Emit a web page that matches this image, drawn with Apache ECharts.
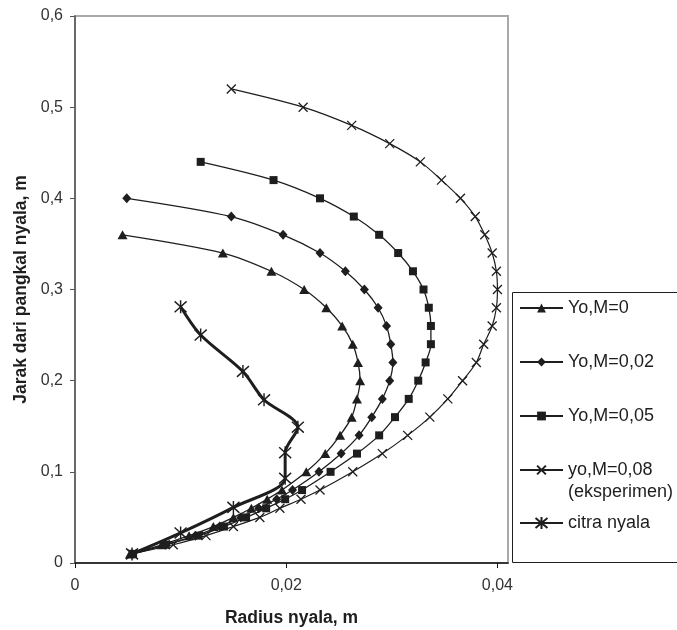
<!DOCTYPE html>
<html>
<head>
<meta charset="utf-8">
<title>Radius nyala</title>
<script src="https://cdn.jsdelivr.net/npm/echarts@6/dist/echarts.min.js"></script>
<style>
  html, body { margin: 0; padding: 0; background: #fff; }
  #chart { width: 677px; height: 630px; }
</style>
</head>
<body>
<div id="chart"></div>
<script>
// jarak dari pangkal nyala (m) vs radius nyala (m)
const m0Jarak = [0.36, 0.34, 0.32, 0.30, 0.28, 0.26, 0.24, 0.22, 0.20, 0.18, 0.16, 0.14, 0.12, 0.10, 0.08, 0.07, 0.06, 0.05, 0.04, 0.03, 0.02, 0.01];
const m0Radius = [0.0045, 0.0140, 0.0186, 0.0217, 0.0238, 0.0253, 0.0263, 0.0268, 0.0270, 0.0267, 0.0262, 0.0251, 0.0237, 0.0219, 0.0196, 0.0182, 0.0167, 0.0150, 0.0131, 0.0108, 0.0082, 0.0052];

const m002Jarak = [0.40, 0.38, 0.36, 0.34, 0.32, 0.30, 0.28, 0.26, 0.24, 0.22, 0.20, 0.18, 0.16, 0.14, 0.12, 0.10, 0.08, 0.07, 0.06, 0.05, 0.04, 0.03, 0.02, 0.01];
const m002Radius = [0.0049, 0.0148, 0.0197, 0.0232, 0.0256, 0.0274, 0.0287, 0.0295, 0.0299, 0.0301, 0.0298, 0.0291, 0.0281, 0.0269, 0.0252, 0.0231, 0.0206, 0.0191, 0.0174, 0.0157, 0.0137, 0.0114, 0.0086, 0.0054];

const m005Jarak = [0.44, 0.42, 0.40, 0.38, 0.36, 0.34, 0.32, 0.30, 0.28, 0.26, 0.24, 0.22, 0.20, 0.18, 0.16, 0.14, 0.12, 0.10, 0.08, 0.07, 0.06, 0.05, 0.04, 0.03, 0.02, 0.01];
const m005Radius = [0.0119, 0.0188, 0.0232, 0.0264, 0.0288, 0.0306, 0.0320, 0.0330, 0.0335, 0.0337, 0.0337, 0.0332, 0.0325, 0.0316, 0.0303, 0.0288, 0.0267, 0.0242, 0.0215, 0.0199, 0.0181, 0.0162, 0.0141, 0.0117, 0.0086, 0.0055];

const m008Jarak = [0.52, 0.50, 0.48, 0.46, 0.44, 0.42, 0.40, 0.38, 0.36, 0.34, 0.32, 0.30, 0.28, 0.26, 0.24, 0.22, 0.20, 0.18, 0.16, 0.14, 0.12, 0.10, 0.08, 0.07, 0.06, 0.05, 0.04, 0.03, 0.02, 0.01];
const m008Radius = [0.0148, 0.0216, 0.0262, 0.0298, 0.0327, 0.0347, 0.0365, 0.0379, 0.0388, 0.0395, 0.0399, 0.0400, 0.0399, 0.0395, 0.0387, 0.0380, 0.0367, 0.0353, 0.0336, 0.0315, 0.0291, 0.0263, 0.0232, 0.0214, 0.0194, 0.0175, 0.0150, 0.0124, 0.0093, 0.0054];

const citraJarak = [0.281, 0.25, 0.21, 0.179, 0.149, 0.121, 0.093, 0.061, 0.033, 0.01];
const citraRadius = [0.0100, 0.0119, 0.0159, 0.0179, 0.0211, 0.0199, 0.0199, 0.0150, 0.0100, 0.0054];

const namaSeri = ["Yo,M=0", "Yo,M=0,02", "Yo,M=0,05", "yo,M=0,08\n(eksperimen)", "citra nyala"];
const xTicks = [0, 0.02, 0.04];

const FONT = "'Liberation Sans', Arial, sans-serif";
const HITAM = "#1e1e1e";

function pasang(radius, jarak) {
  return radius.map(function (r, i) {
    return [r, jarak[i]];
  });
}
function koma(v) {
  return String(Number(v.toFixed(3))).replace(".", ",");
}

// legenda: satu komponen per baris supaya posisi bisa diatur
const legendTop = [297, 351, 405, 437, 512];
const legends = namaSeri.map(function (nama, i) {
  return {
    data: [nama],
    orient: "vertical",
    left: 519,
    top: legendTop[i],
    padding: 0,
    itemWidth: 43,
    itemHeight: i === 4 ? 15 : 11,
    selectedMode: false,
    // baris kosong di depan agar ikon sejajar baris pertama
    formatter: i === 3 ? function (n) { return "\n" + n; } : "{name}",
    textStyle: {
      fontFamily: FONT,
      fontSize: 18,
      lineHeight: 22,
      color: HITAM,
    },
  };
});

const option = {
  animation: false,
  backgroundColor: "#fff",
  grid: {
    left: 75,
    right: 169,
    top: 16,
    bottom: 67,
    outerBoundsMode: "none",
    show: true,
    borderColor: "#a9a9a9",
    borderWidth: 2,
  },
  legend: legends,
  graphic: [
    {
      type: "rect",
      shape: { x: 512.5, y: 292.5, width: 180, height: 270 },
      style: { fill: "none", stroke: HITAM, lineWidth: 1 },
      z: 1,
    },
  ],
  xAxis: {
    type: "value",
    min: 0,
    max: 0.041,
    name: "Radius nyala, m",
    nameLocation: "middle",
    nameGap: 46,
    nameTextStyle: { fontFamily: FONT, fontSize: 17.5, fontWeight: "bold", color: HITAM },
    splitLine: { show: false },
    axisLine: { lineStyle: { color: "#111", width: 1.5 } },
    axisTick: { customValues: xTicks, length: 5, lineStyle: { color: "#111" } },
    axisLabel: {
      customValues: xTicks,
      margin: 15,
      fontFamily: FONT,
      fontSize: 16,
      color: "#333",
      formatter: koma,
    },
  },
  yAxis: {
    type: "value",
    min: 0,
    max: 0.6,
    interval: 0.1,
    name: "Jarak dari pangkal nyala, m",
    nameLocation: "middle",
    nameGap: 44,
    nameTextStyle: { fontFamily: FONT, fontSize: 17.5, fontWeight: "bold", color: HITAM },
    splitLine: { show: false },
    axisLine: { lineStyle: { color: "#555", width: 1.5 } },
    axisTick: { length: 5, lineStyle: { color: "#555" } },
    axisLabel: {
      margin: 12,
      fontFamily: FONT,
      fontSize: 16,
      color: "#333",
      formatter: koma,
    },
  },
  series: [
    {
      name: namaSeri[0],
      type: "line",
      smooth: 0.3,
      data: pasang(m0Radius, m0Jarak),
      symbol: "triangle",
      symbolSize: [10, 9],
      lineStyle: { color: HITAM, width: 1.3 },
      itemStyle: { color: HITAM },
    },
    {
      name: namaSeri[1],
      type: "line",
      smooth: 0.3,
      data: pasang(m002Radius, m002Jarak),
      symbol: "diamond",
      symbolSize: [9, 10],
      lineStyle: { color: HITAM, width: 1.3 },
      itemStyle: { color: HITAM },
    },
    {
      name: namaSeri[2],
      type: "line",
      smooth: 0.3,
      data: pasang(m005Radius, m005Jarak),
      symbol: "rect",
      symbolSize: 8,
      lineStyle: { color: HITAM, width: 1.3 },
      itemStyle: { color: HITAM },
    },
    {
      name: namaSeri[3],
      type: "line",
      smooth: 0.3,
      data: pasang(m008Radius, m008Jarak),
      symbol: "path://M0,0L10,10M10,0L0,10",
      symbolSize: 9,
      lineStyle: { color: HITAM, width: 1.2 },
      itemStyle: { color: HITAM, borderColor: HITAM, borderWidth: 1.3 },
    },
    {
      name: namaSeri[4],
      type: "line",
      smooth: 0.3,
      data: pasang(citraRadius, citraJarak),
      symbol: "path://M0,1L10,11M10,1L0,11M5,0L5,12",
      symbolSize: [12, 13],
      lineStyle: { color: HITAM, width: 3 },
      itemStyle: { color: HITAM, borderColor: HITAM, borderWidth: 1.5 },
    },
  ],
};

const chart = echarts.init(document.getElementById("chart"));
chart.setOption(option);
</script>
</body>
</html>
